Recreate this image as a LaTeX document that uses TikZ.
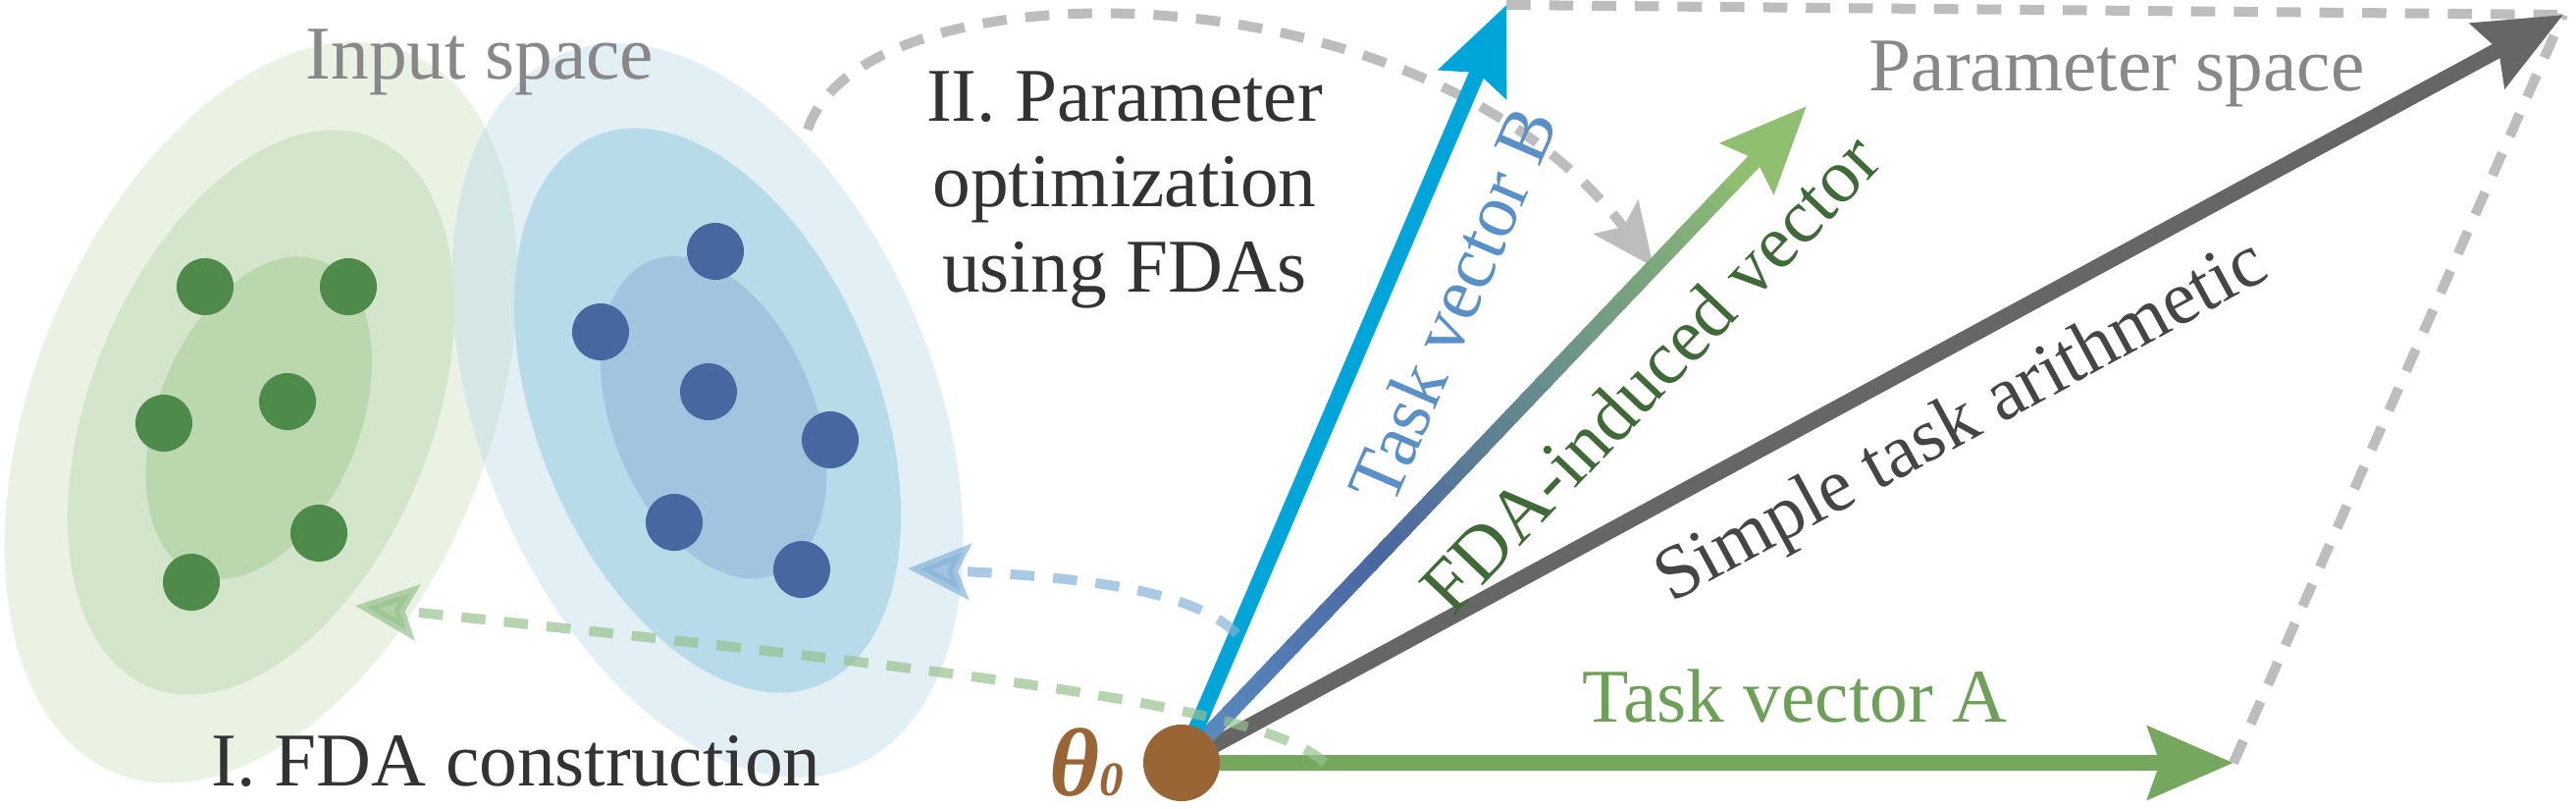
\documentclass[tikz,border=0pt]{standalone}
\usepackage{fontspec}
\setmainfont{Liberation Serif}
\usetikzlibrary{arrows.meta,calc,positioning}
\definecolor{gOut}{HTML}{C8DEB9}
\definecolor{gMid}{HTML}{D3E5CB}
\definecolor{gIn}{HTML}{BBD7AE}
\definecolor{bOut}{HTML}{B6D9E6}
\definecolor{bMid}{HTML}{B7DBE9}
\definecolor{bIn}{HTML}{A2C4DE}
\definecolor{gDot}{HTML}{4E8A49}
\definecolor{bDot}{HTML}{4667A0}
\definecolor{vecA}{HTML}{76A75E}
\definecolor{vecB}{HTML}{00A5D9}
\definecolor{vecS}{HTML}{666666}
\definecolor{fdaA}{HTML}{5B8EC2}
\definecolor{fdaB}{HTML}{4A66A2}
\definecolor{fdaC}{HTML}{8FBF6F}
\definecolor{thetaC}{HTML}{9A6535}
\definecolor{txtDark}{HTML}{333333}
\definecolor{txtGray}{HTML}{888888}
\definecolor{lblA}{HTML}{6FA05A}
\definecolor{lblB}{HTML}{5A90C8}
\definecolor{lblF}{HTML}{3F6A38}
\definecolor{lblS}{HTML}{454545}
\definecolor{dashG}{HTML}{BDBDBD}
\definecolor{dashGreen}{HTML}{97C28E}
\definecolor{dashBlue}{HTML}{86B2D8}
\tikzset{
  txt/.style={inner sep=0pt, font=\fontsize{22}{24.7}\selectfont},
  datapt/.style={circle, fill=#1, minimum size=0.58cm, inner sep=0pt},
  vec/.style={-{Stealth[length=24.7pt,width=20.8pt,inset=3.4pt]}, line width=4.6pt, draw=#1},
  flow/.style={-{Stealth[length=18pt,width=16pt,inset=3.5pt]}, line width=2.85pt,
    dash pattern=on 7pt off 5.4pt, draw=#1},
  guide/.style={line width=2.85pt, dash pattern=on 7pt off 5.4pt, draw=dashG},
}

\begin{document}
\begin{tikzpicture}[x=0.01cm, y=-0.01cm]
  \useasboundingbox (0,0) rectangle (2625,823);

  % input space
  \coordinate (gc) at (266,420);
  \coordinate (bc) at (721,418);
  \fill[gOut, fill opacity=0.4, rotate around={-22:(gc)}] (gc) ellipse [x radius=232, y radius=396];
  \fill[bOut, fill opacity=0.4, rotate around={22:(bc)}] (bc) ellipse [x radius=232, y radius=392];
  \fill[gMid, rotate around={-22:(gc)}] (gc) ellipse [x radius=174, y radius=302];
  \fill[gIn, rotate around={-22:($(gc)+(0,6)$)}] ($(gc)+(0,6)$) ellipse [x radius=103, y radius=172];
  \fill[bMid, rotate around={22:(bc)}] (bc) ellipse [x radius=174, y radius=302];
  \fill[bIn, rotate around={22:($(bc)+(3,9)$)}] ($(bc)+(3,9)$) ellipse [x radius=103, y radius=172];

  \node[datapt=gDot] (g1) at (209,292) {};
  \node[datapt=gDot] (g2) at (355,292) {};
  \node[datapt=gDot] (g3) at (167,431) {};
  \node[datapt=gDot] (g4) at (293,409) {};
  \node[datapt=gDot] (g5) at (325,543) {};
  \node[datapt=gDot] (g6) at (195,593) {};
  \node[datapt=bDot] (b1) at (729,256) {};
  \node[datapt=bDot] (b2) at (612,338) {};
  \node[datapt=bDot] (b3) at (722,399) {};
  \node[datapt=bDot] (b4) at (846,448) {};
  \node[datapt=bDot] (b5) at (687,532) {};
  \node[datapt=bDot] (b6) at (817,580) {};

  \node[txt, text=txtGray, anchor=base] (inSp) at (489,80) {Input space};
  \node[txt, text=txtDark, anchor=base] (fdaCon) at (526,800) {I. FDA construction};
  \node[txt, text=txtDark, align=center, anchor=north] (paramOpt) at (1146,72) {II. Parameter\\optimization\\using FDAs};
  \node[txt, text=txtGray, anchor=base] (parSp) at (2157,92) {Parameter space};
  \node[txt, text=lblA, anchor=base] (labA) at (1829,735) {Task vector A};

  % parameter space
  \coordinate (o) at (1204,777);
  \coordinate (tA) at (2276,777);
  \coordinate (tB) at (1535,5);
  \coordinate (tF) at (1841,108);
  \coordinate (tS) at (2612,15);
  \coordinate (arcS) at (823,132);
  \coordinate (bTgt) at (925,579);
  \coordinate (gTgt) at (362,617);

  \draw[guide] (tB) -- (tS);
  \draw[guide] (tA) -- (tS);
  \draw[flow=dashG] (arcS) .. controls (880,-40) and (1450,-40) .. ($(o)!0.755!(tF)$);

  \draw[vec=vecA] (o) -- (tA);
  \draw[vec=vecS] (o) -- (tS);
  \foreach \i in {0,...,34} {
    \pgfmathsetmacro\ta{\i/40}
    \pgfmathsetmacro\tb{(\i+1.3)/40}
    \pgfmathtruncatemacro\pa{min(100,\ta/0.3*100)}
    \pgfmathtruncatemacro\pb{max(0,min(100,(\ta-0.3)/0.6*100))}
    \colorlet{segA}{fdaB!\pa!fdaA}
    \colorlet{segC}{fdaC!\pb!segA}
    \draw[segC, line width=4.6pt] ($(o)!\ta!(tF)$) -- ($(o)!\tb!(tF)$);
  }
  \draw[vec=fdaC] ($(o)!0.875!(tF)$) -- (tF);
  \draw[vec=vecB] (o) -- (tB);

  \node[txt, text=lblB, rotate=66.7] (labB) at (1480,310) {Task vector B};
  \node[txt, text=lblF, rotate=46.4] (labF) at (1681,380) {FDA-induced vector};
  \node[txt, text=lblS, rotate=28.5] (labS) at (2000,432) {Simple task arithmetic};

  \draw[flow=dashBlue, opacity=0.7] ($(o)!0.17!(tB)$) .. controls (1215,600) and (1100,588) .. (bTgt);
  \draw[flow=dashGreen, opacity=0.7] ($(o)!0.136!(tA)$) .. controls (1290,720) and (1000,685) .. (gTgt);

  \node[circle, fill=thetaC, minimum size=0.78cm, inner sep=0pt] (theta) at (o) {};
  \node[text=thetaC, inner sep=0pt, font=\fontsize{28}{30}\selectfont\bfseries\itshape,
    left=0.18cm of theta] (thetaLbl) {θ{\fontsize{14}{14}\selectfont 0}};
\end{tikzpicture}
\end{document}
